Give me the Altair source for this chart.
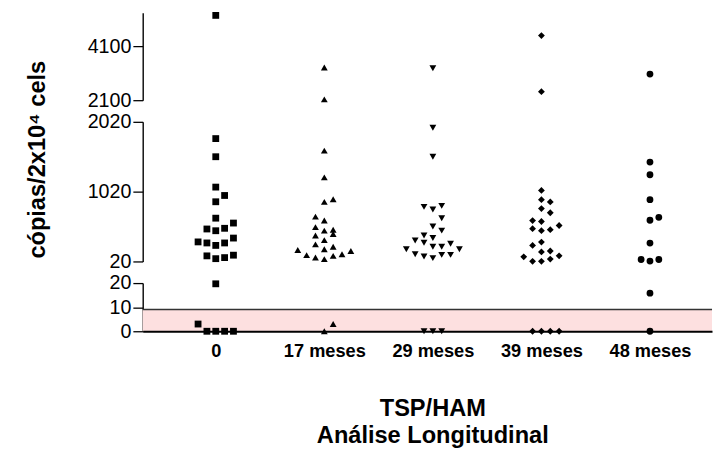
import altair as alt
import pandas as pd

# ---- data ----
labels = ["0", "17 meses", "29 meses", "39 meses", "48 meses"]
shapes = ["square", "triangle-up", "triangle-down", "diamond", "circle"]

values_0 = [5250, 1780, 1520, 1085, 965, 875, 640, 570, 485, 460, 495, 355,
            300, 285, 250, 285, 100, 60, 75, 110, 19.7, 3.0, 0, 0, 0, 0]
slots_0 = [0, 0, 0, 0, 1, 0, 0, 2, -1, 0, 1, 2,
           -2, -1, 0, 1, -1, 0, 1, 2, 0, -2, -1, 0, 1, 2]

values_17 = [3315, 2130, 1607, 1224, 873, 910, 662, 606, 512, 461, 475, 413,
             391, 325, 264, 231, 194, 184, 110, 76, 54, 100, 124, 170, 0, 3.0]
slots_17 = [0, 0, 0, 0, 0, 1, -1, 0, -1, 0, 1, 1,
            -1, 0, -1, 1, 0, -3, -2, -1, 0, 1, 2, 3, 0, 1]

values_29 = [3289, 1936, 1519, 802, 764, 816, 638, 521, 461, 391, 357, 321,
             287, 231, 231, 273, 194, 124, 90, 68, 114, 114, 194, 0, 0, 0]
slots_29 = [0, 0, 0, -1, 0, 1, 1, 0, 1, -1, 0, -2,
            -1, 0, 1, 2, -3, -2, -1, 0, 1, 2, 3, -1, 0, 1]

values_39 = [4500, 2416, 1037, 905, 873, 778, 718, 606, 592, 535, 489, 461,
             475, 297, 250, 156, 170, 86, 22, 22, 54, 100, 0, 0, 0, 0]
slots_39 = [0, 0, 0, 0, 1, 0, 1, -1, 0, 2, -1, 0,
            1, 0, -1, 0, 1, -2, -1, 0, 1, 2, -1, 0, 1, 2]

values_48 = [3071, 1444, 1262, 905, 610, 652, 283, 48, 26, 48, 15.8, 0]
slots_48 = [0, 0, 0, 0, 0, 1, 0, -1, 0, 1, 0, 0]

limit_lo = [0]
limit_hi = [9]

top_ticks = [2100, 4100]
mid_ticks = [20, 1020, 2020]
bot_ticks = [0, 10, 20]

y_title = "cópias/2x10⁴ cels"
x_title = ["TSP/HAM", "Análise Longitudinal"]

# ---- build table ----
all_vals = [values_0, values_17, values_29, values_39, values_48]
all_slots = [slots_0, slots_17, slots_29, slots_39, slots_48]
rows = []
for gi, (vals, sl) in enumerate(zip(all_vals, all_slots)):
    for v, s in zip(vals, sl):
        rows.append({"grp": gi, "label": labels[gi], "value": v, "slot": s})
df = pd.DataFrame(rows)
band_df = pd.DataFrame({"value": limit_lo, "value_hi": limit_hi})

FONT = "Liberation Sans"
STEP = 0.0815
W = 579
XDOM = [-0.673, -0.673 + W / 110.4]

label_expr = "[" + ",".join("'" + l + "'" for l in labels) + "][datum.value]"


def yaxis(ticks, **kw):
    return alt.Axis(values=ticks, format="d", tickSize=10, tickColor="black",
                    tickWidth=1.3, domainColor="black", domainWidth=1.4,
                    labelFont=FONT, labelFontSize=20, labelColor="black",
                    labelPadding=2, labelOverlap=False, labelFlush=False,
                    grid=False, **kw)


def panel(dom, filt, height, xaxis=None, yaxis_obj=None, band=False):
    yscale = alt.Scale(domain=dom, nice=False, zero=False)
    yenc = alt.Y("value:Q", scale=yscale, axis=yaxis_obj)
    pts = (
        alt.Chart(df)
        .transform_filter(filt)
        .transform_calculate(xpos=f"datum.grp + datum.slot * {STEP}")
        .mark_point(filled=True, color="black", opacity=1, size=48, strokeWidth=0)
        .encode(
            x=alt.X("xpos:Q", scale=alt.Scale(domain=XDOM, nice=False, zero=False),
                    axis=xaxis),
            y=yenc,
            shape=alt.Shape("label:N", scale=alt.Scale(domain=labels, range=shapes),
                            legend=None),
        )
    )
    if band:
        b = (
            alt.Chart(band_df)
            .mark_rect(fill="#fde0e0", strokeWidth=0)
            .encode(x=alt.value(0), x2=alt.value("width"), y=yenc, y2="value_hi:Q")
        )
        edge = (
            alt.Chart(band_df)
            .mark_rule(color="#333333", strokeWidth=1.5)
            .encode(x=alt.value(0), x2=alt.value("width"),
                    y=alt.Y("value_hi:Q", scale=yscale, axis=yaxis_obj))
        )
        ch = alt.layer(b, edge, pts)
    else:
        ch = pts
    return ch.properties(width=W, height=height)


top = panel([2100, 5350], "datum.value > 2050", 89,
            yaxis_obj=yaxis(top_ticks, title=None))
mid = panel([20, 2020], "datum.value > 20 && datum.value <= 2050", 142,
            yaxis_obj=yaxis(mid_ticks, title=y_title, titleFont=FONT,
                            titleFontSize=24, titleFontWeight="bold",
                            titleColor="black", titleX=-95, titleY=38,
                            titleAlign="center", titleBaseline="bottom"))
xax = alt.Axis(values=[0, 1, 2, 3, 4], labelExpr=label_expr, ticks=False, tickSize=0,
               domainColor="black", domainWidth=2, labelFont=FONT,
               labelFontWeight="bold", labelFontSize=18.5, labelColor="black",
               labelPadding=11, labelFlush=False, labelOverlap=False, grid=False,
               title=x_title, titleFont=FONT, titleFontSize=24, titleFontWeight="bold",
               titleColor="black", titleLineHeight=27, titleX=294.5, titleY=86,
               titleBaseline="alphabetic", titleAlign="center", zindex=1)
bot = panel([0, 20], "datum.value <= 20", 49, xaxis=xax,
            yaxis_obj=yaxis(bot_ticks, title=None), band=True)

chart = (
    alt.vconcat(top, mid, bot, spacing=22, bounds="flush")
    .resolve_scale(y="independent", x="independent")
    .properties(padding={"left": 17, "top": 0, "right": 0, "bottom": 0})
    .configure_view(stroke=None)
)

chart.save("out.html", embed_options={"renderer": "svg", "actions": False})
